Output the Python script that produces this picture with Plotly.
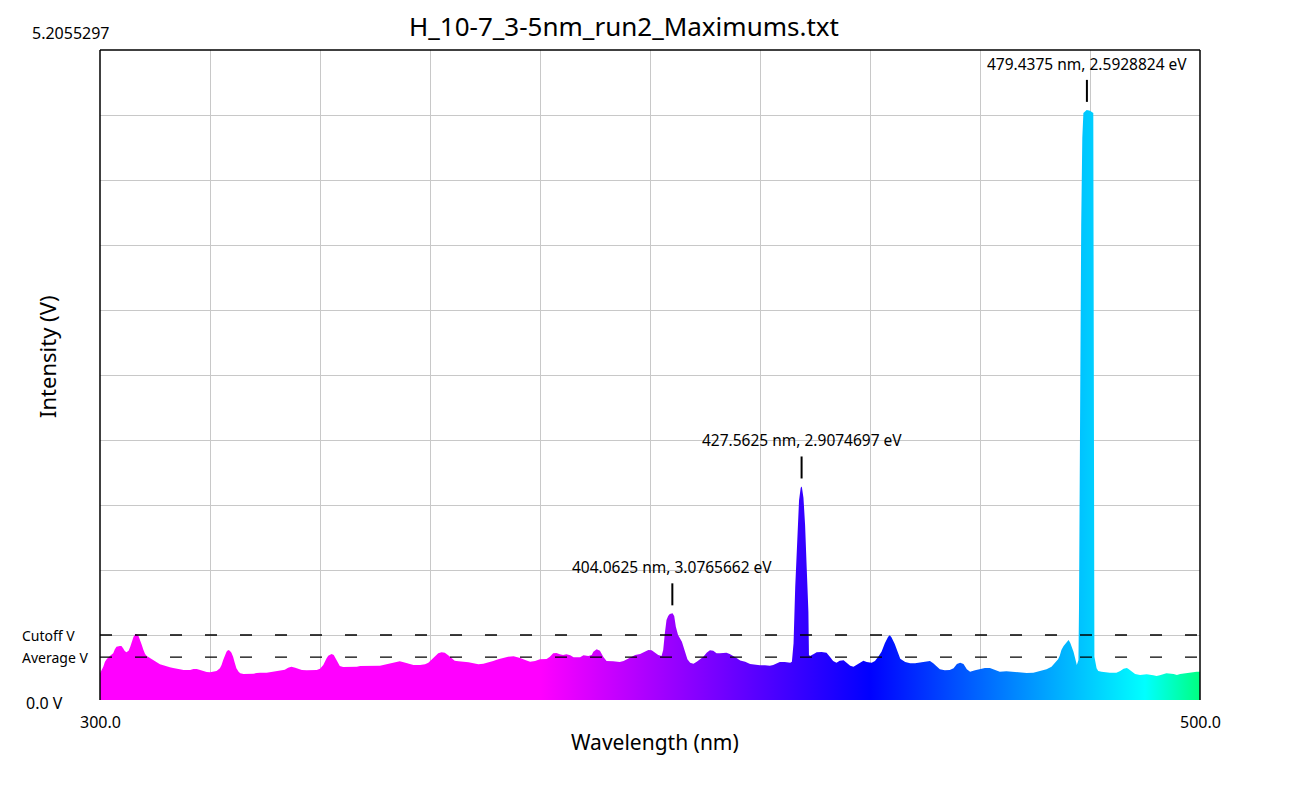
import plotly.graph_objects as go

# spectrum (wavelength in nm, intensity in V)
wavelength_nm = [
    300.0, 300.3, 300.6, 300.9, 301.2, 301.8, 302.4, 302.7, 303.0, 303.6,
    303.9, 304.2, 304.5, 304.8, 305.2, 305.5, 305.8, 306.1, 306.4, 306.7,
    307.0, 307.3, 307.6, 307.9, 308.2, 308.5, 309.1, 309.7, 310.3, 310.9,
    311.5, 312.1, 312.7, 313.3, 313.9, 314.5, 315.2, 315.8, 316.4, 317.0,
    317.6, 318.2, 318.8, 319.4, 320.0, 320.6, 321.2, 321.8, 322.1, 322.4,
    322.7, 323.0, 323.3, 323.6, 323.9, 324.2, 324.5, 324.8, 325.2, 325.5,
    326.1, 326.7, 327.3, 327.9, 328.5, 329.1, 330.3, 330.9, 331.8, 332.7,
    333.6, 334.2, 334.8, 335.5, 336.1, 336.7, 337.6, 338.8, 339.4, 340.0,
    340.6, 341.2, 341.5, 342.1, 342.5, 343.0, 343.3, 343.6, 344.2, 345.5,
    346.7, 347.3, 348.5, 349.7, 350.9, 351.5, 352.1, 352.7, 353.3, 353.9,
    354.5, 355.2, 355.8, 356.4, 357.0, 358.2, 359.1, 359.7, 360.3, 360.9,
    361.5, 362.1, 362.7, 363.3, 363.9, 364.5, 365.2, 366.1, 367.0, 367.9,
    368.8, 369.7, 370.6, 371.5, 372.4, 373.3, 374.2, 375.2, 375.8, 376.4,
    377.3, 378.2, 379.1, 380.0, 381.2, 381.8, 382.4, 383.0, 383.6, 384.2,
    384.8, 385.5, 386.1, 387.3, 387.9, 388.8, 389.4, 389.7, 390.3, 390.9,
    391.5, 392.1, 393.3, 394.5, 395.2, 395.8, 396.4, 397.3, 398.2, 399.1,
    399.7, 400.3, 400.9, 401.5, 402.1, 402.4, 402.7, 403.0, 403.3, 403.6,
    404.1, 404.4, 404.7, 405.1, 405.8, 406.4, 406.8, 407.3, 407.9, 408.5,
    409.1, 409.7, 410.3, 410.9, 411.5, 412.1, 412.7, 413.3, 413.9, 414.5,
    415.2, 415.8, 416.4, 417.3, 418.2, 419.1, 420.0, 420.9, 421.8, 422.4,
    423.0, 423.6, 424.5, 425.5, 425.8, 426.1, 426.4, 426.8, 427.1, 427.4,
    427.6, 427.9, 428.2, 428.5, 428.8, 428.9, 429.1, 429.7, 430.3, 431.2,
    432.1, 432.7, 433.3, 433.9, 434.5, 435.2, 435.8, 436.4, 437.0, 437.6,
    438.2, 438.8, 439.4, 440.3, 440.9, 441.5, 442.1, 442.7, 443.3, 443.6,
    443.9, 444.5, 445.2, 445.5, 446.4, 447.3, 448.2, 449.1, 450.0, 450.9,
    451.5, 452.1, 452.7, 453.6, 454.5, 455.2, 455.8, 456.4, 457.0, 457.6,
    458.2, 459.1, 460.0, 460.9, 461.8, 462.7, 463.6, 464.8, 466.1, 467.3,
    468.5, 469.7, 470.9, 472.1, 473.0, 473.6, 474.2, 474.5, 474.8, 475.2,
    475.8, 476.1, 476.4, 476.7, 477.0, 477.3, 477.6, 477.8, 477.9, 478.0,
    478.2, 478.4, 478.6, 478.8, 479.4, 480.0, 480.6, 480.8, 481.2, 481.5,
    482.1, 483.0, 483.6, 484.8, 485.5, 486.1, 486.7, 487.0, 487.6, 488.2,
    489.1, 490.3, 491.5, 492.1, 492.7, 493.9, 495.2, 495.8, 496.4, 497.3,
    498.2, 499.4, 500.0,
]
intensity_v = [
    0.214, 0.240, 0.267, 0.307, 0.326, 0.352, 0.374, 0.406, 0.427, 0.432,
    0.432, 0.414, 0.392, 0.382, 0.395, 0.427, 0.467, 0.507, 0.526, 0.526,
    0.513, 0.481, 0.440, 0.400, 0.368, 0.352, 0.334, 0.315, 0.299, 0.286,
    0.278, 0.267, 0.262, 0.256, 0.248, 0.246, 0.240, 0.238, 0.240, 0.248,
    0.248, 0.240, 0.230, 0.224, 0.222, 0.224, 0.232, 0.254, 0.280, 0.320,
    0.360, 0.387, 0.400, 0.395, 0.379, 0.347, 0.299, 0.254, 0.227, 0.214,
    0.208, 0.208, 0.214, 0.211, 0.216, 0.219, 0.219, 0.224, 0.232, 0.240,
    0.243, 0.259, 0.267, 0.259, 0.251, 0.240, 0.238, 0.238, 0.240, 0.251,
    0.280, 0.334, 0.355, 0.368, 0.360, 0.320, 0.294, 0.272, 0.264, 0.264,
    0.267, 0.272, 0.272, 0.272, 0.275, 0.280, 0.286, 0.294, 0.302, 0.310,
    0.310, 0.302, 0.294, 0.283, 0.280, 0.280, 0.286, 0.299, 0.326, 0.352,
    0.374, 0.382, 0.379, 0.358, 0.334, 0.315, 0.310, 0.307, 0.302, 0.294,
    0.286, 0.291, 0.299, 0.312, 0.326, 0.336, 0.347, 0.350, 0.344, 0.336,
    0.320, 0.307, 0.312, 0.326, 0.328, 0.347, 0.374, 0.376, 0.366, 0.360,
    0.366, 0.358, 0.342, 0.342, 0.358, 0.352, 0.360, 0.387, 0.406, 0.395,
    0.347, 0.312, 0.310, 0.304, 0.312, 0.326, 0.342, 0.360, 0.368, 0.387,
    0.400, 0.398, 0.379, 0.360, 0.352, 0.400, 0.534, 0.641, 0.673, 0.689,
    0.694, 0.673, 0.587, 0.521, 0.467, 0.387, 0.326, 0.299, 0.291, 0.307,
    0.326, 0.347, 0.379, 0.398, 0.395, 0.374, 0.374, 0.379, 0.379, 0.368,
    0.352, 0.334, 0.316, 0.307, 0.288, 0.280, 0.278, 0.278, 0.275, 0.280,
    0.294, 0.304, 0.304, 0.299, 0.307, 0.454, 0.900, 1.350, 1.600, 1.700,
    1.710, 1.620, 1.400, 1.050, 0.707, 0.360, 0.352, 0.366, 0.382, 0.384,
    0.379, 0.347, 0.312, 0.299, 0.315, 0.318, 0.294, 0.275, 0.267, 0.286,
    0.299, 0.315, 0.304, 0.299, 0.312, 0.347, 0.387, 0.454, 0.507, 0.518,
    0.502, 0.448, 0.374, 0.330, 0.304, 0.294, 0.294, 0.299, 0.307, 0.312,
    0.294, 0.267, 0.246, 0.238, 0.240, 0.254, 0.288, 0.299, 0.288, 0.246,
    0.227, 0.238, 0.246, 0.256, 0.256, 0.240, 0.227, 0.230, 0.224, 0.216,
    0.216, 0.219, 0.230, 0.246, 0.267, 0.294, 0.326, 0.355, 0.400, 0.432,
    0.467, 0.481, 0.459, 0.427, 0.387, 0.334, 0.280, 0.307, 0.320, 0.734,
    2.400, 3.800, 4.500, 4.700, 4.726, 4.720, 4.700, 0.347, 0.254, 0.232,
    0.227, 0.222, 0.219, 0.219, 0.232, 0.251, 0.256, 0.248, 0.224, 0.208,
    0.200, 0.206, 0.198, 0.192, 0.198, 0.214, 0.208, 0.200, 0.208, 0.214,
    0.222, 0.227, 0.227,
]

y_max = 5.2055297
cutoff_v = 0.52055
average_v = 0.344

peak_nm = [404.0625, 427.5625, 479.4375]
peak_ev = [3.0765662, 2.9074697, 2.5928824]

# wavelength -> colour stops (magenta below 380, blue 440, cyan 490)
x_lo, x_hi = wavelength_nm[0], wavelength_nm[-1]
def pos(w):
    return (w - x_lo) / (x_hi - x_lo)
spectrum = [
    [0.0, "#ff00ff"],
    [pos(380), "#ff00ff"],
    [pos(440), "#0000ff"],
    [pos(490), "#00ffff"],
    [1.0, "#00ff80"],
]

fig = go.Figure()
fig.add_trace(go.Scatter(
    x=wavelength_nm, y=intensity_v,
    mode="lines", line=dict(width=0),
    fill="tozeroy",
    fillgradient=dict(type="horizontal", colorscale=spectrum),
    hoverinfo="skip", showlegend=False))

font = "Noto Sans"
shapes = []
annotations = []

# dashed cutoff / average lines
for v in [cutoff_v, average_v]:
    shapes.append(dict(type="line", xref="x", yref="y", x0=x_lo, x1=x_hi,
                       y0=v, y1=v, line=dict(color="black", width=1.3, dash="12px,23px")))

# frame: left, top, right
for x0, y0, x1, y1 in [(0, 0, 0, 1), (0, 1, 1, 1), (1, 0, 1, 1)]:
    shapes.append(dict(type="line", xref="paper", yref="paper", x0=x0, y0=y0,
                       x1=x1, y1=y1, line=dict(color="black", width=1.5)))

# peak markers
for nm, ev in zip(peak_nm, peak_ev):
    top = max(v for w, v in zip(wavelength_nm, intensity_v) if abs(w - nm) < 1.5)
    shapes.append(dict(type="line", xref="x", yref="y", ysizemode="pixel",
                       yanchor=top, x0=nm, x1=nm, y0=8, y1=30,
                       line=dict(color="black", width=2)))
    annotations.append(dict(x=nm, y=top, xref="x", yref="y", yshift=46, yanchor="middle",
                            text=f"{nm} nm, {ev} eV", showarrow=False,
                            font=dict(size=15.5, color="black", family=font)))

lbl = dict(showarrow=False, font=dict(size=16, family=font, color="black"))
# axis end labels
annotations += [
    dict(x=x_lo, y=0, xref="x", yref="paper", yshift=-22, yanchor="middle", text="300.0", **lbl),
    dict(x=x_hi, y=0, xref="x", yref="paper", yshift=-22, yanchor="middle", text="500.0", **lbl),
    dict(x=0, y=0, xref="paper", yref="paper", xshift=-35, yshift=-3, xanchor="right",
         yanchor="middle", text="0.0 V", **lbl),
    dict(x=0, y=1, xref="paper", yref="paper", xshift=-70, yshift=17, xanchor="left",
         yanchor="middle", text=str(y_max), **lbl),
    dict(x=0, y=cutoff_v, xref="paper", yref="y", xshift=-80, xanchor="left",
         yanchor="middle", text="Cutoff V", showarrow=False,
         font=dict(size=14, family=font, color="black")),
    dict(x=0, y=average_v, xref="paper", yref="y", xshift=-80, xanchor="left",
         yanchor="middle", text="Average V", showarrow=False,
         font=dict(size=14, family=font, color="black")),
    # axis titles
    dict(x=0.5, y=0, xref="paper", yref="paper", xshift=5, yshift=-42, yanchor="middle",
         text="Wavelength (nm)", showarrow=False,
         font=dict(size=21, family=font, color="black")),
    dict(x=0, y=0.5, xref="paper", yref="paper", xshift=-53, yshift=18, xanchor="center",
         yanchor="middle", textangle=-90, text="Intensity (V)", showarrow=False,
         font=dict(size=22, family=font, color="black")),
]

# the page body adds an 8px offset, so margins are trimmed by 8px
fig.update_layout(
    width=1300, height=800,
    margin=dict(l=92, r=108, t=42, b=108),
    paper_bgcolor="white", plot_bgcolor="white",
    font=dict(family=font, color="#111111"),
    title=dict(text="H_10-7_3-5nm_run2_Maximums.txt", x=616 / 1300, xanchor="center",
               y=1 - 19 / 800, yanchor="middle", font=dict(size=26, color="black")),
    shapes=shapes, annotations=annotations,
)
fig.update_xaxes(range=[x_lo, x_hi], tick0=300, dtick=20, showticklabels=False,
                 showgrid=True, gridcolor="#c8c8c8", gridwidth=1, zeroline=False,
                 showline=False, ticks="", automargin=False)
fig.update_yaxes(range=[0, y_max], tick0=0, dtick=y_max / 10, showticklabels=False,
                 showgrid=True, gridcolor="#c8c8c8", gridwidth=1, zeroline=False,
                 showline=False, ticks="", automargin=False)

fig.write_html("out.html")
